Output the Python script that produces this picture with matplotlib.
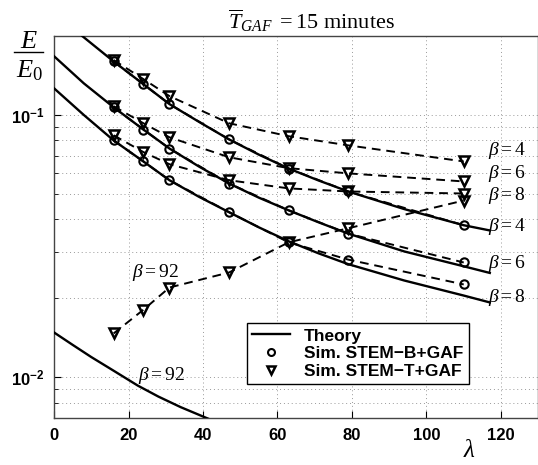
import numpy as np
import matplotlib.pyplot as plt
from matplotlib.lines import Line2D
from matplotlib.ticker import LogLocator, NullFormatter, FixedLocator

plt.rcParams['mathtext.fontset'] = 'custom'
plt.rcParams['mathtext.rm'] = 'Liberation Serif'
plt.rcParams['mathtext.it'] = 'Liberation Serif:italic'
plt.rcParams['mathtext.bf'] = 'Liberation Sans:bold'
plt.rcParams['font.family'] = ['Liberation Sans', 'DejaVu Sans']

# simulation lambda values
lam_sim = [16, 24, 31, 47, 63, 79, 110]

# Sim. STEM-B+GAF (circles)
stemb_b4 = [0.160, 0.131, 0.110, 0.0807, 0.0625, 0.0511, 0.038]
stemb_b6 = [0.107, 0.088, 0.0745, 0.0548, 0.0433, 0.0353, 0.0274]
stemb_b8 = [0.080, 0.0665, 0.0564, 0.0426, 0.0327, 0.0281, 0.0226]

# Sim. STEM-T+GAF (triangles)
stemt_b4 = [0.162, 0.137, 0.118, 0.093, 0.083, 0.0766, 0.0665]
stemt_b6 = [0.108, 0.093, 0.0822, 0.069, 0.0627, 0.0599, 0.0558]
stemt_b8 = [0.0837, 0.0722, 0.0649, 0.0564, 0.0525, 0.0511, 0.0502]
stemt_b92 = [0.0147, 0.0181, 0.022, 0.0251, 0.0327, 0.037, 0.0472]

# theory curves
th_lam_b4 = [7, 16, 24, 31, 39, 47, 55, 63, 71, 79, 94, 110, 117]
th_b4 = [0.203, 0.160, 0.131, 0.110, 0.094, 0.0807, 0.0706, 0.0625, 0.0563, 0.0511, 0.0438, 0.038, 0.0363]
th_lam = [0, 8, 16, 24, 31, 39, 47, 55, 63, 71, 79, 94, 110, 117]
th_b6 = [0.1675, 0.132, 0.107, 0.088, 0.0745, 0.0635, 0.0548, 0.0484, 0.0433, 0.039, 0.0353, 0.0302, 0.0265, 0.025]
th_b8 = [0.1264, 0.100, 0.080, 0.0665, 0.0564, 0.0487, 0.0426, 0.0373, 0.0330, 0.0297, 0.0270, 0.0234, 0.0205, 0.0193]
th_lam_b92 = [0, 5, 10, 16, 22.5, 28, 34, 42]
th_b92 = [0.01483, 0.0133, 0.01195, 0.0106, 0.0093, 0.00845, 0.0077, 0.0069]

fig = plt.figure(figsize=(5.38, 4.65), dpi=100)
ax = fig.add_axes([0.1004, 0.1011, 0.9, 0.8215])
ax.set_yscale('log')
ax.set_xlim(0, 130)
ax.set_ylim(0.007, 0.2)

lw_th = 1.7
for x, y in [(th_lam_b4, th_b4), (th_lam, th_b6), (th_lam, th_b8), (th_lam_b92, th_b92)]:
    ax.plot(x, y, 'k-', lw=lw_th, zorder=3)

dash = (0, (4.5, 3))
for y in [stemb_b4, stemb_b6, stemb_b8]:
    ax.plot(lam_sim, y, color='k', ls=dash, lw=1.4, marker='o', ms=6,
            mfc='none', mec='k', mew=1.5, zorder=2)
for y in [stemt_b4, stemt_b6, stemt_b8, stemt_b92]:
    ax.plot(lam_sim, y, color='k', ls=dash, lw=1.4, marker='v', ms=7,
            mfc='none', mec='k', mew=1.8, zorder=2)

# beta labels
fs_b = 14
labels = [
    (116.5, 0.0730, r'$\beta = 4$'),
    (116.5, 0.0599, r'$\beta = 6$'),
    (116.5, 0.0494, r'$\beta = 8$'),
    (116.5, 0.0376, r'$\beta = 4$'),
    (116.5, 0.0272, r'$\beta = 6$'),
    (116.5, 0.0202, r'$\beta = 8$'),
    (21.0, 0.0251, r'$\beta = 92$'),
    (22.5, 0.01014, r'$\beta = 92$'),
]
for x, y, s in labels:
    ax.text(x, y, s, fontsize=fs_b, ha='left', va='center', zorder=5)

# ticks and grid
ax.xaxis.set_major_locator(FixedLocator([0, 20, 40, 60, 80, 100, 120]))
ax.yaxis.set_major_locator(FixedLocator([0.01, 0.1]))
ax.yaxis.set_minor_locator(LogLocator(base=10, subs=np.arange(2, 10)))
ax.yaxis.set_minor_formatter(NullFormatter())
ax.set_yticklabels([r'$\mathbf{10^{-2}}$', r'$\mathbf{10^{-1}}$'])
for lab in ax.get_xticklabels():
    lab.set_fontweight('bold')
ax.tick_params(axis='both', which='major', direction='in', labelsize=12, length=5, pad=7)
ax.tick_params(axis='y', which='minor', direction='in', length=3)
ax.grid(True, which='major', ls=(0, (1, 3)), color='#999999', lw=0.7)
ax.grid(True, which='minor', axis='y', ls=(0, (1, 3)), color='#999999', lw=0.7)
for sp in ax.spines.values():
    sp.set_color('#444444')
    sp.set_linewidth(1.0)

# legend
handles = [
    Line2D([], [], color='k', lw=lw_th),
    Line2D([], [], ls='none', marker='o', ms=5, mfc='none', mec='k', mew=1.5),
    Line2D([], [], ls='none', marker='v', ms=6, mfc='none', mec='k', mew=1.8),
]
leg = ax.legend(handles, ['Theory', 'Sim. STEM\u2212B+GAF', 'Sim. STEM\u2212T+GAF'],
                loc='upper left', bbox_to_anchor=(0.459, 0.305),
                bbox_transform=fig.transFigure, borderaxespad=0, fancybox=False,
                framealpha=1, edgecolor='k', prop={'weight': 'bold', 'size': 12.5},
                handlelength=2.2, borderpad=0.3, labelspacing=0.15, handletextpad=0.8)
leg.get_frame().set_linewidth(1.0)
leg.set_zorder(6)

# title and axis labels
fig.text(0.578, 0.955, r'$\overline{T}_{GAF}\ = 15\ \mathrm{minutes}$', fontsize=16,
         ha='center', va='center')
fig.text(0.054, 0.912, r'$E$', fontsize=19, ha='center', va='center')
fig.add_artist(Line2D([0.026, 0.079], [0.888, 0.888], transform=fig.transFigure,
                      color='k', lw=1.0))
fig.text(0.054, 0.848, r'$E_0$', fontsize=19, ha='center', va='center')
fig.text(0.872, 0.032, r'$\lambda$', fontsize=18, ha='center', va='center')

fig.savefig('out.png', dpi=100)
